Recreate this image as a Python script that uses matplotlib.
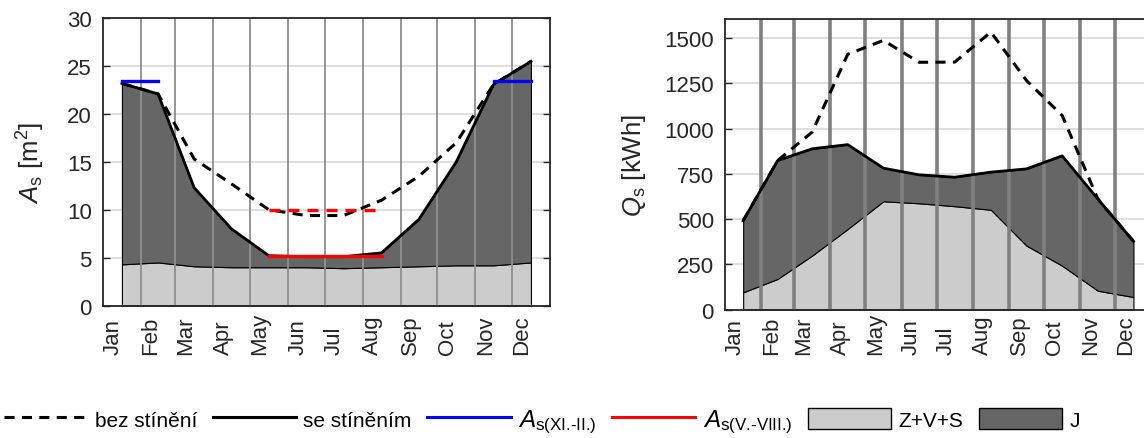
import numpy as np
import matplotlib.pyplot as plt
from matplotlib.lines import Line2D
from matplotlib.patches import Patch
from matplotlib import transforms

plt.rcParams['font.family'] = ['Liberation Sans', 'DejaVu Sans']
plt.rcParams['mathtext.fontset'] = 'custom'
plt.rcParams['mathtext.rm'] = 'Liberation Sans'
plt.rcParams['mathtext.it'] = 'Liberation Sans:italic'

months = ['Jan', 'Feb', 'Mar', 'Apr', 'May', 'Jun',
          'Jul', 'Aug', 'Sep', 'Oct', 'Nov', 'Dec']
month_days = [31, 28, 31, 30, 31, 30, 31, 31, 30, 31, 30, 31]

# A_s [m2]
area_zvs = [4.3, 4.5, 4.1, 4.0, 4.0, 4.0, 3.9, 4.0, 4.1, 4.2, 4.2, 4.5]
area_shaded = [23.2, 22.1, 12.3, 8.0, 5.2, 5.1, 5.1, 5.5, 9.0, 15.0, 23.1, 25.5]
area_unshaded = [23.2, 22.1, 15.3, 12.7, 10.0, 9.4, 9.4, 11.0, 13.5, 17.0, 23.1, 25.5]
area_winter = 23.5          # A_s(XI.-II.)
area_summer = 5.2           # A_s(V.-VIII.)
area_summer_unshaded = 10.0
winter_months = [10, 11, 0, 1]
summer_months = [4, 5, 6, 7]

# Q_s [kWh]
gain_zvs = [95, 169, 298, 445, 598, 587, 571, 551, 353, 242, 104, 69]
gain_shaded = [491, 823, 888, 911, 781, 744, 731, 759, 777, 849, 611, 377]
gain_unshaded = [491, 823, 980, 1410, 1487, 1366, 1367, 1533, 1265, 1072, 611, 377]

light = '#cccccc'
dark = '#666666'
txt = '#262626'

starts = np.concatenate([[0], np.cumsum(month_days)[:-1]])
mids = starts + np.array(month_days) / 2.0

fig = plt.figure(figsize=(11.44, 4.39), dpi=100)
ax1 = fig.add_axes([0.0900, 0.3018, 0.3907, 0.6542])
ax2 = fig.add_axes([0.6338, 0.2927, 0.3728, 0.6617])


def style_axes(ax, ymax, yticks, vlw, vcol):
    ax.set_xlim(0, 365)
    ax.set_ylim(0, ymax)
    ax.set_yticks(yticks)
    ax.set_xticks([])
    ax.set_axisbelow(True)
    ax.yaxis.grid(True, color='#dcdcdc', lw=1.3)
    for s in starts[1:]:
        ax.axvline(s, color=vcol, lw=vlw, zorder=3)
    for sp in ax.spines.values():
        sp.set_color(txt)
        sp.set_linewidth(1.3)
        sp.set_zorder(6)
    ax.tick_params(axis='y', direction='in', length=5, width=1,
                   labelsize=16, pad=8, right=True, colors=txt)
    trans = transforms.blended_transform_factory(ax.transData, fig.transFigure) + \
        transforms.ScaledTranslation(10 / 100, 0, fig.dpi_scale_trans)
    for s, m in zip(starts, months):
        ax.text(s, 1 - 355 / 439, m, transform=trans, rotation=90,
                rotation_mode='anchor', ha='left', va='center',
                fontsize=16, color=txt, clip_on=False)


def masked(values, idx):
    out = np.full(12, np.nan)
    out[idx] = values
    return out


# left chart
style_axes(ax1, 30, [0, 5, 10, 15, 20, 25, 30], 1.3, '#8f8f8f')
ax1.fill_between(mids, 0, area_zvs, facecolor=light, edgecolor='black', lw=0.8, zorder=1)
ax1.fill_between(mids, area_zvs, area_shaded, facecolor=dark, edgecolor='black', lw=0.8, zorder=1)
ax1.plot(mids, area_unshaded, color='black', lw=2.2, ls=(0, (3.3, 2.4)), zorder=4)
ax1.plot(mids, area_shaded, color='black', lw=2.0, zorder=4)
ax1.plot(mids, masked(area_winter, winter_months), color='#0000ff', lw=2.4, zorder=5)
ax1.plot(mids, masked(area_summer, summer_months), color='#ff0000', lw=2.4, zorder=5)
ax1.plot(mids, masked(area_summer_unshaded, summer_months), color='#ff0000', lw=2.4,
         ls=(0, (3.3, 2.4)), zorder=5)
ax1.set_ylabel(r'$A_\mathrm{s}$ [m$^2$]', fontsize=18.5, color=txt)
ax1.yaxis.set_label_coords(-0.125, 0.5)

# right chart
style_axes(ax2, 1605, [0, 250, 500, 750, 1000, 1250, 1500], 2.6, '#808080')
ax2.fill_between(mids, 0, gain_zvs, facecolor=light, edgecolor='black', lw=0.8, zorder=1)
ax2.fill_between(mids, gain_zvs, gain_shaded, facecolor=dark, edgecolor='black', lw=0.8, zorder=1)
ax2.plot(mids, gain_unshaded, color='black', lw=2.2, ls=(0, (3.3, 2.4)), zorder=4)
ax2.plot(mids, gain_shaded, color='black', lw=2.0, zorder=4)
ax2.set_ylabel(r'$Q_\mathrm{s}$ [kWh]', fontsize=18.5, color=txt)
ax2.yaxis.set_label_coords(-0.18, 0.5)

handles = [
    Line2D([], [], color='black', lw=2.2, ls=(0, (3.3, 2.4))),
    Line2D([], [], color='black', lw=2.2),
    Line2D([], [], color='#0000ff', lw=2.2),
    Line2D([], [], color='#ff0000', lw=2.2),
    Patch(facecolor=light, edgecolor='black', lw=1.0),
    Patch(facecolor=dark, edgecolor='black', lw=1.0),
]
labels = ['bez stínění', 'se stíněním', r'$A_\text{s(XI.-II.)}$',
          r'$A_\text{s(V.-VIII.)}$', 'Z+V+S', 'J']
leg = fig.legend(handles, labels, loc='center left', bbox_to_anchor=(4 / 1144, 1 - 422 / 439),
                 ncol=6, frameon=False, fontsize=15, handlelength=4.0, handleheight=1.2,
                 handletextpad=0.35, columnspacing=0.75, borderpad=0, borderaxespad=0)
for t in leg.get_texts()[2:4]:
    t.set_fontsize(17.5)

fig.savefig('out.png', dpi=100)
